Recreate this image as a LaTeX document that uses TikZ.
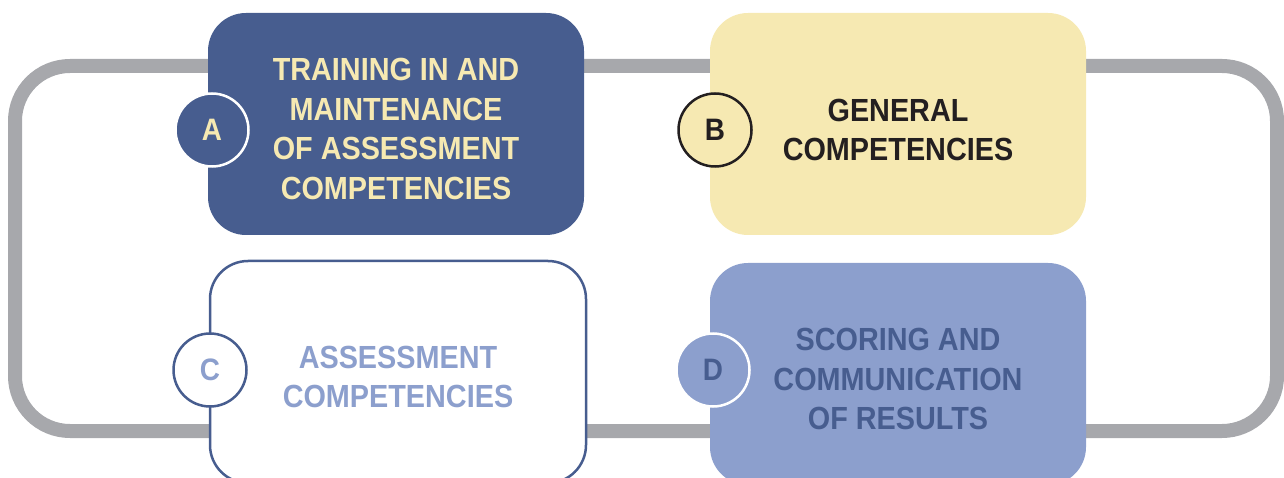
\documentclass[tikz,border=0pt]{standalone}
\usepackage{fontspec}
\usetikzlibrary{calc}
\setmainfont[FakeStretch=0.9]{Liberation Sans}
\definecolor{dblue}{HTML}{475D8F}
\definecolor{lblue}{HTML}{8C9FCD}
\definecolor{cream}{HTML}{F6E9B2}
\definecolor{ink}{HTML}{231F20}
\definecolor{loopgray}{HTML}{A7A8AC}
\begin{document}
\begin{tikzpicture}[x=1pt,y=-1pt,
  card/.style={rounded corners=38pt, minimum width=376pt, minimum height=222pt, inner sep=0pt},
  cardtext/.style={align=center, inner sep=0pt, font=\bfseries\fontsize{32}{39.5}\selectfont},
  badge/.style={circle, minimum size=73pt, inner sep=0pt, line width=2.5pt, font=\bfseries\fontsize{31}{32}\selectfont}]
\useasboundingbox (0,0) rectangle (1284,478);
\clip (0,0) rectangle (1284,478);
\draw[loopgray, line width=14pt, rounded corners=55pt] (15,66) rectangle (1277,431);
% cards
\node[card, fill=dblue] (cardA) at (396,124) {};
\node[card, fill=cream] (cardB) at (898,124) {};
\node[card, fill=white, draw=dblue, line width=2.5pt] (cardC) at (398,372) {};
\node[card, fill=lblue] (cardD) at (898,374) {};
% texts
\node[cardtext, text=cream] (tA) at ($(cardA.center)+(0,5)$) {TRAINING IN AND\\MAINTENANCE\\OF ASSESSMENT\\COMPETENCIES};
\node[cardtext, text=ink] (tB) at ($(cardB.center)+(0,6)$) {GENERAL\\COMPETENCIES};
\node[cardtext, text=lblue] (tC) at (398,377) {ASSESSMENT\\COMPETENCIES};
\node[cardtext, text=dblue] (tD) at (898,379) {SCORING AND\\COMMUNICATION\\OF RESULTS};
% badges
\node[badge, fill=dblue, draw=white, text=cream] (bA) at (212,130) {\raisebox{-1.5pt}{A}};
\node[badge, fill=cream, draw=ink, text=ink] (bB) at (715,130) {\raisebox{-1.5pt}{B}};
\node[badge, fill=white, draw=dblue, text=lblue] (bC) at (210,370) {\raisebox{-1.5pt}{C}};
\node[badge, fill=lblue, draw=white, text=dblue] (bD) at (713,370) {\raisebox{-1.5pt}{D}};
\end{tikzpicture}
\end{document}
